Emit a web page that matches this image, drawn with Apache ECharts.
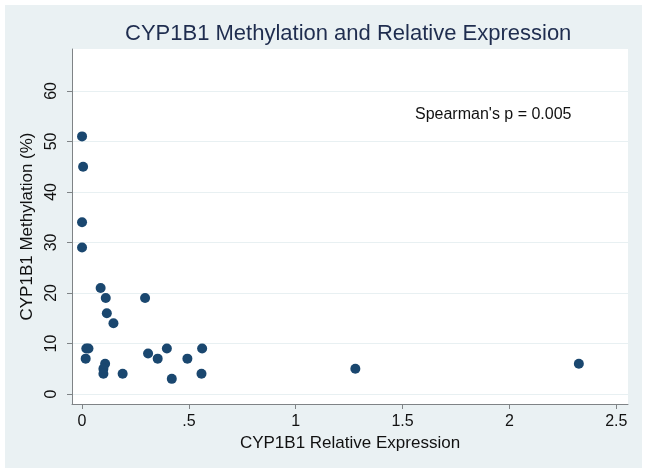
<!DOCTYPE html>
<html>
<head>
<meta charset="utf-8">
<script src="https://cdn.jsdelivr.net/npm/echarts@6/dist/echarts.min.js"></script>
<style>
  html, body { margin: 0; padding: 0; background: #fff; }
  #chart { width: 649px; height: 475px; }
</style>
</head>
<body>
<div id="chart"></div>
<script>
// relative expression (x) and methylation % (y)
const expression = [0.0, 0.005, 0.0, 0.0, 0.087, 0.111, 0.116, 0.147, 0.295, 0.02, 0.03, 0.017, 0.108, 0.1, 0.1, 0.19, 0.309, 0.354, 0.397, 0.42, 0.493, 0.562, 0.559, 1.279, 2.325];
const methylation = [51, 45, 34, 29, 21, 19, 16, 14, 19, 9, 9, 7, 6, 5, 4, 4, 8, 7, 9, 3, 7, 9, 4, 5, 6];

const xTicks = [0, 0.5, 1, 1.5, 2, 2.5];
const xTickLabels = ["0", ".5", "1", "1.5", "2", "2.5"];
const yTicks = [0, 10, 20, 30, 40, 50, 60];
const yTickLabels = ["0", "10", "20", "30", "40", "50", "60"];

const titleText = "CYP1B1 Methylation and Relative Expression";
const noteText = "Spearman's p = 0.005";

const chart = echarts.init(document.getElementById("chart"));
const font = "'Liberation Sans', Arial, sans-serif";
const axisColor = "#7f8386";

const points = expression.map((x, i) => [x, methylation[i]]);

const option = {
    backgroundColor: "#ffffff",
    animation: false,
    textStyle: { fontFamily: font },
    title: {
        text: titleText,
        left: 125,
        top: 23,
        padding: 0,
        textStyle: { fontFamily: font, fontSize: 22, fontWeight: "normal", color: "#1f2d4f" },
    },
    graphic: [
        {
            type: "rect",
            z: -10,
            shape: { x: 5, y: 5, width: 637, height: 463 },
            style: { fill: "#eaf1f3" },
        },
        {
            type: "text",
            x: 415,
            y: 115,
            style: {
                text: noteText,
                font: "16px " + font,
                fill: "#111",
                verticalAlign: "middle",
            },
        },
    ],
    grid: {
        left: 72,
        top: 49,
        right: 21,
        bottom: 71,
        show: true,
        backgroundColor: "#ffffff",
        borderWidth: 0,
    },
    xAxis: {
        type: "value",
        min: -0.047,
        max: 2.555,
        name: "CYP1B1 Relative Expression",
        nameLocation: "middle",
        nameGap: 26,
        nameTextStyle: { fontSize: 17, color: "#111" },
        axisLine: { show: true, onZero: false, lineStyle: { color: axisColor } },
        axisTick: { show: true, length: 5, customValues: xTicks, lineStyle: { color: axisColor } },
        axisLabel: {
            customValues: xTicks,
            fontSize: 16,
            color: "#111",
            margin: 10,
            formatter: (v) => xTickLabels[xTicks.indexOf(v)] ?? "",
        },
        splitLine: { show: false },
    },
    yAxis: {
        type: "value",
        min: -1.98,
        max: 68.3,
        name: "CYP1B1 Methylation (%)",
        nameLocation: "middle",
        nameGap: 26,
        nameTextStyle: { fontSize: 17, color: "#111" },
        axisLine: { show: true, onZero: false, lineStyle: { color: axisColor } },
        axisTick: { show: true, length: 5, customValues: yTicks, lineStyle: { color: axisColor } },
        axisLabel: {
            customValues: yTicks,
            fontSize: 16,
            color: "#111",
            rotate: 90,
            margin: 12,
            formatter: (v) => yTickLabels[yTicks.indexOf(v)] ?? "",
        },
        splitLine: { show: true, customValues: yTicks, lineStyle: { color: "#e8f0f2", width: 1 } },
    },
    series: [
        {
            type: "scatter",
            data: points,
            symbolSize: 10,
            clip: false,
            itemStyle: { color: "#1a476f", opacity: 1 },
            emphasis: { disabled: true },
        },
    ],
};

chart.setOption(option);
</script>
</body>
</html>
